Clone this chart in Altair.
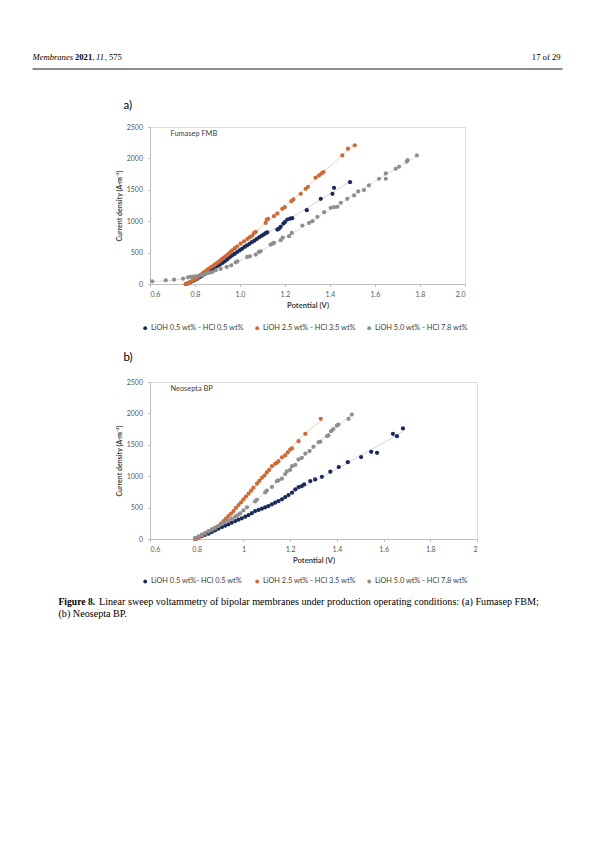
import altair as alt
import pandas as pd

# ---------------- data: panel a (Fumasep FMB) ----------------
a_s1_v = [0.759, 0.768, 0.778, 0.789, 0.800, 0.811, 0.822, 0.833, 0.844, 0.855, 0.866, 0.877,
          0.888, 0.899, 0.910, 0.921, 0.932, 0.943, 0.954, 0.965, 0.976, 0.987, 0.998, 1.009,
          1.020, 1.031, 1.042, 1.053, 1.064, 1.075, 1.086, 1.097, 1.107, 1.114, 1.121, 1.166,
          1.173, 1.181, 1.193, 1.199, 1.210, 1.223, 1.232, 1.297, 1.359, 1.411, 1.418, 1.489]
a_s1_i = [0, 10, 25, 45, 62, 85, 110, 135, 158, 185, 208, 235,
          260, 285, 308, 335, 360, 392, 425, 455, 480, 508, 535, 560,
          590, 615, 640, 668, 690, 718, 745, 770, 792, 812, 822, 867,
          878, 910, 963, 984, 1027, 1040, 1048, 1176, 1357, 1436, 1532, 1622]

a_s2_v = [0.759, 0.766, 0.772, 0.778, 0.788, 0.795, 0.803, 0.810, 0.818, 0.826, 0.833, 0.840,
          0.847, 0.855, 0.862, 0.870, 0.877, 0.885, 0.892, 0.900, 0.907, 0.914, 0.921, 0.929,
          0.936, 0.944, 0.951, 0.958, 0.966, 0.977, 0.988, 1.003, 1.018, 1.033, 1.044, 1.055,
          1.063, 1.070, 1.114, 1.119, 1.125, 1.151, 1.166, 1.188, 1.199, 1.228, 1.237, 1.270,
          1.292, 1.302, 1.336, 1.351, 1.362, 1.371, 1.455, 1.480, 1.510]
a_s2_i = [0, 5, 15, 27, 50, 65, 80, 100, 122, 145, 165, 185,
          202, 225, 245, 265, 282, 300, 319, 338, 356, 378, 399, 420,
          441, 462, 484, 510, 537, 570, 601, 644, 680, 718, 745, 771,
          814, 830, 973, 1027, 1037, 1080, 1122, 1197, 1223, 1319, 1346, 1436,
          1516, 1548, 1692, 1729, 1761, 1782, 2048, 2155, 2208]

a_s3_v = [0.610, 0.670, 0.707, 0.747, 0.769, 0.781, 0.793, 0.803, 0.818, 0.833, 0.847, 0.862,
          0.877, 0.892, 0.914, 0.941, 0.961, 0.981, 0.988, 1.032, 1.044, 1.070, 1.084, 1.092,
          1.136, 1.143, 1.151, 1.181, 1.190, 1.218, 1.230, 1.277, 1.307, 1.322, 1.344, 1.374,
          1.403, 1.418, 1.433, 1.448, 1.477, 1.507, 1.525, 1.551, 1.573, 1.618, 1.648, 1.648,
          1.692, 1.707, 1.741, 1.745, 1.786]
a_s3_i = [43, 58, 69, 85, 106, 112, 117, 122, 133, 144, 160, 176,
          191, 218, 239, 271, 298, 346, 360, 431, 441, 468, 510, 521,
          628, 640, 654, 697, 738, 761, 814, 931, 973, 1000, 1069, 1144,
          1213, 1223, 1229, 1293, 1357, 1410, 1473, 1495, 1569, 1676, 1676, 1761,
          1835, 1867, 1950, 1972, 2048]

# ---------------- data: panel b (Neosepta BP) ----------------
b_s1_v = [0.793, 0.808, 0.822, 0.836, 0.851, 0.865, 0.879, 0.893, 0.908, 0.922, 0.936, 0.950,
          0.965, 0.979, 0.993, 1.008, 1.022, 1.036, 1.050, 1.065, 1.079, 1.093, 1.107, 1.122,
          1.136, 1.150, 1.165, 1.179, 1.193, 1.208, 1.222, 1.236, 1.250, 1.260, 1.286, 1.307,
          1.336, 1.372, 1.408, 1.447, 1.504, 1.547, 1.572, 1.640, 1.657, 1.683]
b_s1_i = [0, 25, 47, 66, 85, 112, 138, 165, 191, 212, 233, 260,
          286, 308, 329, 355, 382, 412, 445, 462, 482, 505, 525, 552,
          578, 605, 631, 668, 700, 737, 790, 827, 843, 869, 922, 949,
          990, 1071, 1145, 1224, 1304, 1388, 1372, 1675, 1638, 1760]

b_s2_v = [0.793, 0.808, 0.822, 0.836, 0.850, 0.865, 0.879, 0.893, 0.904, 0.915, 0.925, 0.936,
          0.947, 0.958, 0.968, 0.979, 0.990, 1.000, 1.011, 1.022, 1.033, 1.043, 1.058, 1.068,
          1.079, 1.090, 1.100, 1.110, 1.122, 1.136, 1.143, 1.150, 1.165, 1.179, 1.190, 1.200,
          1.208, 1.236, 1.265, 1.331]
b_s2_i = [0, 21, 55, 85, 120, 154, 180, 207, 245, 286, 325, 366,
          405, 445, 495, 541, 585, 631, 675, 721, 770, 817, 880, 925,
          975, 1010, 1060, 1100, 1160, 1198, 1213, 1240, 1300, 1330, 1380, 1425,
          1442, 1558, 1675, 1913]

b_s3_v = [0.793, 0.808, 0.822, 0.836, 0.851, 0.865, 0.879, 0.893, 0.908, 0.922, 0.936, 0.950,
          0.965, 0.976, 0.986, 1.000, 1.015, 1.050, 1.058, 1.093, 1.100, 1.122, 1.143, 1.150,
          1.165, 1.179, 1.186, 1.200, 1.208, 1.222, 1.236, 1.250, 1.265, 1.283, 1.300, 1.322,
          1.329, 1.358, 1.364, 1.375, 1.385, 1.400, 1.407, 1.450, 1.464]
b_s3_i = [16, 42, 69, 95, 122, 148, 175, 207, 239, 265, 292, 323,
          355, 382, 408, 455, 504, 599, 625, 742, 769, 830, 920, 935,
          960, 1034, 1075, 1100, 1160, 1180, 1266, 1290, 1361, 1400, 1467, 1541,
          1550, 1637, 1650, 1716, 1750, 1806, 1823, 1912, 1981]

series_a = ["LiOH 0.5 wt% - HCl 0.5 wt%", "LiOH 2.5 wt% - HCl 3.5 wt%", "LiOH 5.0 wt% - HCl 7.8 wt%"]
series_b = ["LiOH 0.5 wt%- HCl 0.5 wt%", "LiOH 2.5 wt% - HCl 3.5 wt%", "LiOH 5.0 wt% - HCl 7.8 wt%"]
point_colors = ["#1c2a5a", "#cd6a35", "#8f8f8f"]
line_colors = ["#c9cee2", "#f1c6b3", "#d9d9d9"]

x_ticks = [0.6, 0.8, 1.0, 1.2, 1.4, 1.6, 1.8, 2.0]
y_ticks = [0, 500, 1000, 1500, 2000, 2500]

FONT = "Lato"
SERIF = "Liberation Serif"


def frame(parts, names):
    rows = []
    for (vs, cs), name in zip(parts, names):
        for v, c in zip(vs, cs):
            rows.append({"V": v, "I": c, "series": name})
    return pd.DataFrame(rows)


one = pd.DataFrame({"k": [0]})


def label(txt, x, y, size=7, color="#404040", align="left", weight="normal",
          style="normal", font=FONT):
    return alt.Chart(one).mark_text(
        text=txt, align=align, baseline="middle", fontSize=size, color=color,
        fontWeight=weight, fontStyle=style, font=font
    ).encode(x=alt.value(x), y=alt.value(y))


def panel(df, names, xfmt, width, height, legend_y, extra):
    xenc = alt.X("V:Q", scale=alt.Scale(domain=[0.6, 2.0], nice=False),
                 axis=alt.Axis(values=x_ticks, format=xfmt, title="Potential (V)",
                               grid=False, labelFontSize=7, labelColor="#595959",
                               titleFontSize=7.6, titleFontWeight="bold", titleColor="#404040",
                               domainColor="#bfbfbf", tickColor="#bfbfbf", tickSize=2.5,
                               labelPadding=4, titlePadding=3.5, labelFont=FONT, titleFont=FONT))
    yenc = alt.Y("I:Q", scale=alt.Scale(domain=[0, 2500], nice=False),
                 axis=alt.Axis(values=y_ticks, format="d", title="Current density (A·m⁻²)",
                               grid=False, labelFontSize=7, labelColor="#595959",
                               titleFontSize=7, titleFontWeight="bold", titleColor="#404040",
                               domainColor="#bfbfbf", tickColor="#bfbfbf", tickSize=2.5,
                               labelPadding=5, titlePadding=4, labelFont=FONT, titleFont=FONT))
    base = alt.Chart(df)
    # trend lines: stroke scale built from the data (sorted), so it is never merged with the fill legend
    lines = base.transform_regression(
        "V", "I", groupby=["series"], method="poly", order=3
    ).transform_calculate(trend="datum.series").mark_line(strokeWidth=0.9).encode(
        x=xenc, y=yenc,
        stroke=alt.Stroke("trend:N", scale=alt.Scale(range=line_colors), legend=None),
    )
    pts = base.mark_circle(size=18, opacity=1).encode(
        x=xenc, y=yenc,
        fill=alt.Fill("series:N", scale=alt.Scale(domain=names, range=point_colors),
                      legend=alt.Legend(title=None, orient="none", direction="horizontal",
                                        columns=3, legendX=-8.5, legendY=legend_y,
                                        symbolType="circle", symbolSize=15,
                                        labelFontSize=7.4, labelColor="#404040",
                                        labelFont=FONT, columnPadding=9,
                                        gridAlign="all", labelOffset=2, padding=0)),
    )
    return alt.layer(lines, pts, *extra).properties(width=width, height=height)


df_a = frame([(a_s1_v, a_s1_i), (a_s2_v, a_s2_i), (a_s3_v, a_s3_i)], series_a)
df_b = frame([(b_s1_v, b_s1_i), (b_s2_v, b_s2_i), (b_s3_v, b_s3_i)], series_b)

# panel a origin on page: (149.5, 126)
bounds_box = alt.Chart(one).mark_rect(opacity=0, fill="white").encode(
    x=alt.value(-141.5), x2=alt.value(436), y=alt.value(-118), y2=alt.value(700))
header_rule = alt.Chart(one).mark_rule(color="#000000", strokeWidth=0.9).encode(
    x=alt.value(-117.5), x2=alt.value(412.5), y=alt.value(-58))

HS = 8.6
extra_a = [
    bounds_box,
    header_rule,
    label("Membranes", -117.5, -70, size=HS, color="#000", style="italic", font=SERIF),
    label("2021", -75, -70, size=HS, color="#000", weight="bold", font=SERIF),
    label(",", -57.8, -70, size=HS, color="#000", font=SERIF),
    label("11", -54, -70, size=HS, color="#000", style="italic", font=SERIF),
    label(", 575", -45.3, -70, size=HS, color="#000", font=SERIF),
    label("17 of 29", 410.5, -70, size=HS, color="#000", align="right", font=SERIF),
    label("a)", -26.5, -21, size=11.5, color="#000"),
    label("Fumasep FMB", 20.5, 7.3, size=7.4, color="#404040"),
]

CS = 10.15
extra_b = [
    label("b)", -26.5, -24, size=11.5, color="#000"),
    label("Neosepta BP", 20.5, 6.5, size=7.4, color="#404040"),
    label("Figure 8.", -91.5, 220.3, size=9.6, color="#000", weight="bold", font=SERIF),
    label("Linear sweep voltammetry of bipolar membranes under production operating conditions: (a) Fumasep FBM;",
          -51, 220.3, size=CS, color="#000", font=SERIF),
    label("(b) Neosepta BP.", -91.5, 231.5, size=CS, color="#000", font=SERIF),
]

chart_a = panel(df_a, series_a, ".1f", 315, 157, 197, extra_a)
chart_b = panel(df_b, series_b, "~g", 327, 157, 195.3, extra_b)

chart = alt.vconcat(chart_a, chart_b, spacing=98, bounds="flush").resolve_scale(
    fill="independent", stroke="independent"
).resolve_legend(fill="independent", stroke="independent").properties(padding=0).configure_view(
    stroke=None
).configure(font=FONT)

chart.save("out.html", embed_options={"renderer": "svg", "actions": False})
